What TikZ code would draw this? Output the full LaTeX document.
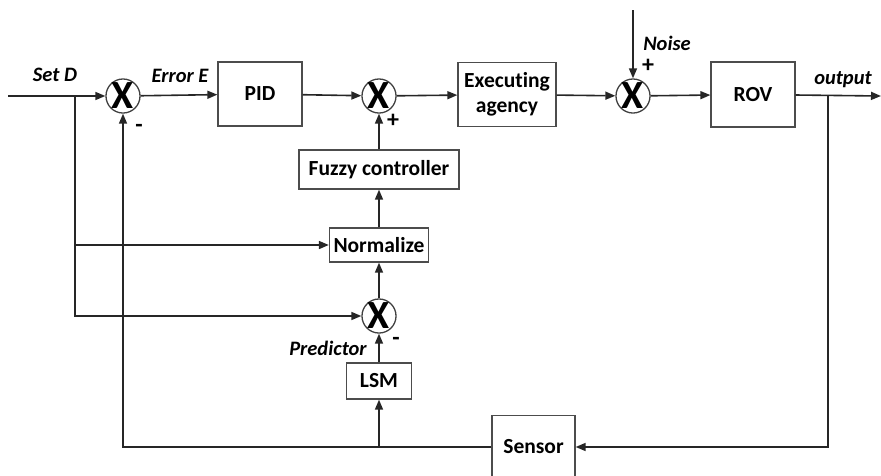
\documentclass[tikz,border=0pt]{standalone}
\usepackage{fontspec}
\setmainfont{Carlito}[Ligatures=NoCommon]
\usetikzlibrary{arrows.meta,positioning}

\tikzset{
  block/.style={draw=black!70, line width=1.3pt, fill=white, inner sep=0pt,
    font=\bfseries\fontsize{21.5}{25}\selectfont, align=center},
  sumnode/.style={circle, draw=black!75, line width=1.3pt, minimum size=34pt,
    inner sep=0pt, font=\bfseries\fontsize{40}{40}\selectfont},
  sig/.style={draw=black!85, line width=1.6pt, -{Triangle[length=10pt,width=8pt]}},
  lab/.style={font=\bfseries\itshape\fontsize{20.5}{23}\selectfont, inner sep=0pt},
  sgn/.style={font=\bfseries\fontsize{24}{24}\selectfont, inner sep=0pt},
}

\begin{document}
\begin{tikzpicture}[x=1pt, y=-1pt]
\useasboundingbox (0,0) rectangle (881,475);

% forward path
\node[sumnode] (s1) at (123,96) {X};
\node[block, minimum width=84pt, minimum height=64pt] (pid) at (260,94) {PID};
\node[sumnode] (s2) at (379,96) {X};
\node[block, minimum width=98pt, minimum height=64pt] (exec) at (507,94.5) {Executing\\agency};
\node[sumnode] (s3) at (633,96) {X};
\node[block, minimum width=84pt, minimum height=65pt] (rov) at (753,94.5) {ROV};

% fuzzy branch
\node[block, minimum width=160pt, minimum height=39pt] (fuzzy) at (379,169.5) {Fuzzy controller};
\node[block, minimum width=99pt, minimum height=34pt] (norm) at (379,245) {Normalize};
\node[sumnode] (s4) at (379,316) {X};
\node[block, minimum width=65pt, minimum height=36pt] (lsm) at (379,381) {LSM};
\node[block, minimum width=83pt, minimum height=63pt] (sensor) at (533.5,447) {Sensor};

\coordinate (in) at (8,96);
\coordinate (br) at (75,96);
\coordinate (noise) at (633,10);
\coordinate (tap) at (828,96);
\coordinate (out) at (881,96);

\draw[sig] (in) -- (s1);
\draw[sig] (s1) -- (pid);
\draw[sig] (pid) -- (s2);
\draw[sig] (s2) -- (exec);
\draw[sig] (exec) -- (s3);
\draw[sig] (s3) -- (rov);
\draw[sig] (rov) -- (out);
\draw[sig] (noise) -- (s3);

\draw[sig] (fuzzy) -- (s2);
\draw[sig] (norm) -- (fuzzy);
\draw[sig] (s4) -- (norm);
\draw[sig] (lsm) -- (s4);

% set point fed to the normalizer and predictor
\draw[sig] (br) |- (s4);
\draw[sig] (br |- norm) -- (norm);

% feedback
\draw[sig] (tap) |- (sensor);
\draw[sig] (sensor) -| (s1);
\draw[sig] (lsm |- sensor) -- (lsm);

% labels
\node[lab] (setd) at (55,75) {Set D};
\node[lab] (err) at (180,76) {Error E};
\node[lab] (nse) at (667,43) {Noise};
\node[lab] (outl) at (843,80) {output};
\node[lab] (pred) at (328,348) {Predictor};
\node[sgn] (m1) at (139,128) {-};
\node[sgn] (p2) at (393,121) {+};
\node[sgn] (p3) at (648,66) {+};
\node[sgn] (m4) at (396,341) {-};
\end{tikzpicture}
\end{document}
